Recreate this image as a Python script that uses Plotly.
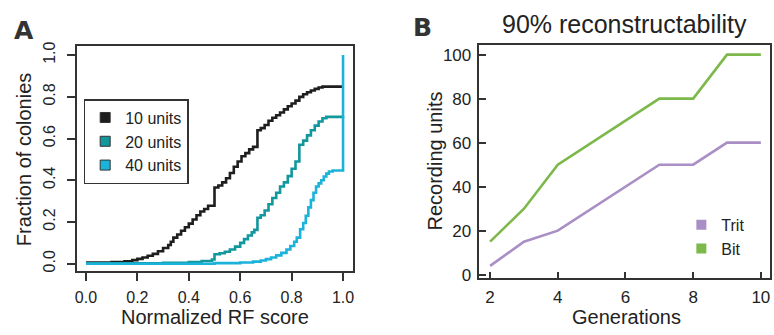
import plotly.graph_objects as go

# ---------------- Panel A data (cumulative fraction vs normalized RF score) ----------------
x_10 = [0.00, 0.10, 0.15, 0.18, 0.20, 0.22, 0.24, 0.26, 0.28, 0.30, 0.32, 0.33, 0.34, 0.355, 0.37,
        0.385, 0.40, 0.415, 0.43, 0.445, 0.46, 0.475, 0.50, 0.515, 0.53, 0.545, 0.56, 0.575, 0.59,
        0.605, 0.62, 0.635, 0.65, 0.667, 0.68, 0.695, 0.71, 0.725, 0.74, 0.755, 0.77, 0.785, 0.80,
        0.815, 0.83, 0.845, 0.86, 0.875, 0.89, 0.905, 0.92, 1.00]
y_10 = [0.005, 0.008, 0.012, 0.017, 0.023, 0.030, 0.038, 0.047, 0.060, 0.075, 0.090, 0.105, 0.125,
        0.140, 0.158, 0.175, 0.192, 0.212, 0.232, 0.250, 0.262, 0.278, 0.365, 0.375, 0.390, 0.410,
        0.435, 0.465, 0.490, 0.515, 0.530, 0.548, 0.560, 0.640, 0.650, 0.665, 0.685, 0.700, 0.712,
        0.725, 0.740, 0.755, 0.768, 0.782, 0.800, 0.812, 0.822, 0.830, 0.838, 0.845, 0.849, 0.849]

x_20 = [0.00, 0.30, 0.40, 0.45, 0.49, 0.50, 0.52, 0.54, 0.56, 0.58, 0.60, 0.615, 0.63, 0.645, 0.655,
        0.667, 0.68, 0.695, 0.71, 0.725, 0.74, 0.755, 0.77, 0.785, 0.80, 0.815, 0.83, 0.845, 0.86,
        0.875, 0.89, 0.905, 0.92, 0.935, 1.00]
y_20 = [0.002, 0.004, 0.008, 0.013, 0.020, 0.045, 0.050, 0.057, 0.068, 0.082, 0.100, 0.118, 0.135,
        0.150, 0.162, 0.220, 0.232, 0.255, 0.285, 0.315, 0.340, 0.370, 0.390, 0.420, 0.455, 0.490,
        0.570, 0.590, 0.615, 0.640, 0.662, 0.682, 0.697, 0.704, 0.706]

x_40 = [0.00, 0.50, 0.60, 0.65, 0.68, 0.70, 0.72, 0.74, 0.76, 0.78, 0.795, 0.81, 0.82, 0.833, 0.845,
        0.855, 0.865, 0.875, 0.885, 0.895, 0.905, 0.915, 0.925, 0.935, 0.945, 0.96, 1.00, 1.00]
y_40 = [0.000, 0.003, 0.006, 0.010, 0.015, 0.022, 0.030, 0.040, 0.052, 0.068, 0.085, 0.105, 0.125,
        0.165, 0.195, 0.230, 0.270, 0.305, 0.340, 0.370, 0.385, 0.400, 0.418, 0.432, 0.442, 0.447,
        0.447, 1.000]

a_names = ["10 units", "20 units", "40 units"]
a_colors = ["#1e1e1e", "#12979c", "#1bb3da"]
a_xticks = [0.0, 0.2, 0.4, 0.6, 0.8, 1.0]
a_xticktext = ["0.0", "0.2", "0.4", "0.6", "0.8", "1.0"]
a_yticks = [0.0, 0.2, 0.4, 0.6, 0.8, 1.0]
a_yticktext = ["0.0", "0.2", "0.4", "0.6", "0.8", "1.0"]

# ---------------- Panel B data ----------------
generations = [2, 3, 4, 5, 6, 7, 8, 9, 10]
trit_units = [4, 15, 20, 30, 40, 50, 50, 60, 60]
bit_units = [15, 30, 50, 60, 70, 80, 80, 100, 100]
b_names = ["Trit", "Bit"]
b_colors = ["#a98fc6", "#7cb84a"]
b_xticks = [2, 4, 6, 8, 10]
b_yticks = [0, 20, 40, 60, 80, 100]

FONT = "Liberation Sans, Arial, Helvetica, sans-serif"
TXT = "#222222"
AX = "#333333"

fig = go.Figure()

# Panel A lines
for xs, ys, nm, col in zip([x_10, x_20, x_40], [y_10, y_20, y_40], a_names, a_colors):
    fig.add_trace(go.Scatter(x=xs, y=ys, mode="lines", line=dict(color=col, width=2.6, shape="hv"),
                             showlegend=False, xaxis="x", yaxis="y", hoverinfo="skip"))
# Panel A legend entries (squares)
for nm, col in zip(a_names, a_colors):
    fig.add_trace(go.Scatter(x=[None], y=[None], mode="markers", name=nm,
                             marker=dict(symbol="square", size=10, color=col,
                                         line=dict(color="#333333", width=1)),
                             legend="legend", xaxis="x", yaxis="y"))

# Panel B lines
for ys, nm, col in zip([trit_units, bit_units], b_names, b_colors):
    fig.add_trace(go.Scatter(x=generations, y=ys, mode="lines", line=dict(color=col, width=2.6),
                             showlegend=False, xaxis="x2", yaxis="y2", hoverinfo="skip"))
for nm, col in zip(b_names, b_colors):
    fig.add_trace(go.Scatter(x=[None], y=[None], mode="markers", name=nm,
                             marker=dict(symbol="square", size=10, color=col),
                             legend="legend2", xaxis="x2", yaxis="y2"))

W, H = 774, 335

def px(x):
    return x / W

def py(y):
    return (H - y) / H

axis_common = dict(showgrid=False, zeroline=False, showline=True, mirror=True,
                   linecolor=AX, linewidth=1.5, tickcolor=AX, tickwidth=1.5)

fig.update_layout(
    width=W, height=H,
    margin=dict(l=0, r=0, t=0, b=0),
    paper_bgcolor="white", plot_bgcolor="white",
    font=dict(family=FONT, color=TXT),
    xaxis=dict(domain=[px(75), px(352.7)], range=[-0.036, 1.04], tickvals=a_xticks,
               ticktext=a_xticktext, ticks="outside", ticklen=8, anchor="y",
               ticklabelstandoff=3, tickfont=dict(family=FONT, size=16, color=TXT),
               **axis_common),
    yaxis=dict(domain=[py(275), py(43)], range=[-0.034, 1.045], tickvals=a_yticks,
               ticktext=a_yticktext, ticks="outside", ticklen=8, tickangle=-90, anchor="x",
               ticklabelstandoff=6, tickfont=dict(family=FONT, size=16, color=TXT),
               **axis_common),
    xaxis2=dict(domain=[px(479.3), px(771)], range=[1.685, 10.27], tickvals=b_xticks,
                ticks="inside", ticklen=7, anchor="y2", ticklabelstandoff=3,
                tickfont=dict(family=FONT, size=17, color=TXT), **axis_common),
    yaxis2=dict(domain=[py(282.7), py(42.7)], range=[-1.63, 104.2], tickvals=b_yticks,
                ticks="inside", ticklen=7, anchor="x2", ticklabelstandoff=3,
                tickfont=dict(family=FONT, size=17, color=TXT), **axis_common),
    legend=dict(x=px(82), y=py(98), xanchor="left", yanchor="top",
                bordercolor=AX, borderwidth=1.5, bgcolor="white",
                font=dict(family=FONT, size=16, color=TXT), tracegroupgap=0,
                itemwidth=30),
    legend2=dict(x=px(682), y=py(210), xanchor="left", yanchor="top",
                 bgcolor="rgba(0,0,0,0)", borderwidth=0,
                 font=dict(family=FONT, size=16, color=TXT), itemwidth=30),
    annotations=[
        dict(text="<b>A</b>", x=px(10), y=py(27), xref="paper", yref="paper", xanchor="left",
             yanchor="middle", showarrow=False,
             font=dict(family="DejaVu Sans, sans-serif", size=25, color="#333333")),
        dict(text="<b>B</b>", x=px(411), y=py(24), xref="paper", yref="paper", xanchor="left",
             yanchor="middle", showarrow=False,
             font=dict(family="DejaVu Sans, sans-serif", size=25, color="#333333")),
        dict(text="90% reconstructability", x=px(625), y=py(21), xref="paper", yref="paper",
             xanchor="center", yanchor="middle", showarrow=False,
             font=dict(family=FONT, size=25, color=TXT)),
        dict(text="Normalized RF score", x=px(214), y=py(323), xref="paper", yref="paper",
             xanchor="center", yanchor="middle", showarrow=False,
             font=dict(family=FONT, size=20, color=TXT)),
        dict(text="Generations", x=px(627), y=py(323), xref="paper", yref="paper",
             xanchor="center", yanchor="middle", showarrow=False,
             font=dict(family=FONT, size=20, color=TXT)),
        dict(text="Fraction of colonies", x=px(22), y=py(160), xref="paper", yref="paper",
             xanchor="center", yanchor="middle", showarrow=False, textangle=-90,
             font=dict(family=FONT, size=20, color=TXT)),
        dict(text="Recording units", x=px(435), y=py(162), xref="paper", yref="paper",
             xanchor="center", yanchor="middle", showarrow=False, textangle=-90,
             font=dict(family=FONT, size=20, color=TXT)),
    ],
)

# remove the default page margin so the 774x335 figure fills the window exactly
fig.write_html("out.html", config={"displayModeBar": False},
               post_script="document.body.style.margin='0px';")
